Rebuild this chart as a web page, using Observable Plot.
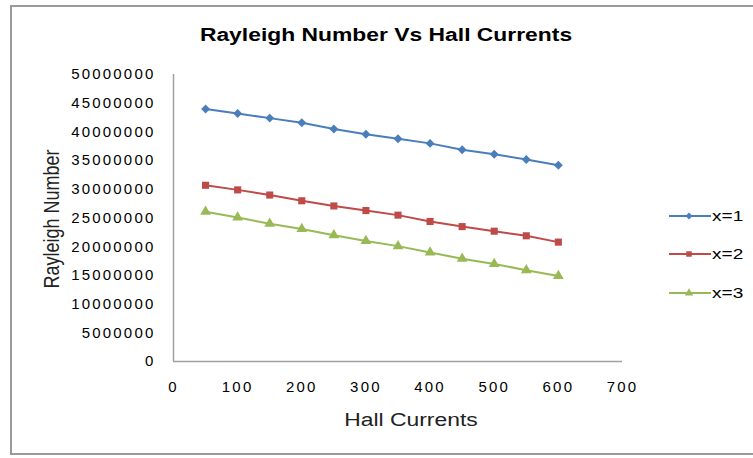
<!DOCTYPE html>
<html>
<head>
<meta charset="utf-8">
<script src="https://cdn.jsdelivr.net/npm/d3@7"></script>
<script src="https://cdn.jsdelivr.net/npm/@observablehq/plot@0.6"></script>
<style>
  html, body { margin: 0; padding: 0; background: #fff; }
  #wrap { position: relative; width: 753px; height: 458px; overflow: hidden; font-family: "Liberation Sans", Arial, sans-serif; color: #000; }
  #frame { position: absolute; left: 10px; top: 5px; width: 780px; height: 450px; border: 2px solid #9a9a9a; box-sizing: border-box; }
  #chart { position: absolute; left: 0; top: 0; }
  .lbl { position: absolute; white-space: nowrap; transform-origin: center center; }
  .leg { position: absolute; left: 669px; height: 20px; }
  .leg span { position: absolute; left: 43px; top: 0; font-size: 15px; line-height: 20px; transform: scaleX(1.27); transform-origin: 0 50%; white-space: nowrap; }
  .leg svg { position: absolute; left: 0; top: 0; }
</style>
</head>
<body>
<div id="wrap">
  <div id="frame"></div>
  <div id="chart"></div>
  <div class="lbl" id="title" style="left:386px; top:35px; font-size:18px; font-weight:bold; transform: translate(-50%,-50%) scaleX(1.27);">Rayleigh Number Vs Hall Currents</div>
  <div class="lbl" id="xt" style="left:411px; top:420px; font-size:18px; color:#222; transform: translate(-50%,-50%) scaleX(1.27);">Hall Currents</div>
  <div class="lbl" id="yt" style="left:52px; top:219px; font-size:18px; color:#222; transform: translate(-50%,-50%) rotate(-90deg) scaleY(1.27);">Rayleigh Number</div>
  <div id="legend"></div>
</div>
<script>
const hallCurrents = [50, 100, 150, 200, 250, 300, 350, 400, 450, 500, 550, 600];
const seriesNames = ["x=1", "x=2", "x=3"];
const rayleighX1 = [44.0e6, 43.2e6, 42.4e6, 41.6e6, 40.5e6, 39.6e6, 38.8e6, 38.0e6, 36.9e6, 36.1e6, 35.2e6, 34.2e6];
const rayleighX2 = [30.7e6, 29.9e6, 29.0e6, 28.0e6, 27.1e6, 26.3e6, 25.5e6, 24.4e6, 23.5e6, 22.7e6, 21.9e6, 20.8e6];
const rayleighX3 = [26.1e6, 25.1e6, 24.0e6, 23.1e6, 22.0e6, 21.0e6, 20.1e6, 19.0e6, 17.9e6, 17.0e6, 15.9e6, 14.9e6];
const yTicks = [0, 5e6, 10e6, 15e6, 20e6, 25e6, 30e6, 35e6, 40e6, 45e6, 50e6];
const xTicks = [0, 100, 200, 300, 400, 500, 600, 700];
const seriesColors = ["#4a7ebb", "#be4b48", "#98b954"];
const seriesSymbols = ["diamond2", "square", "triangle"];

const allValues = [rayleighX1, rayleighX2, rayleighX3];
const rows = [];
seriesNames.forEach((s, i) => hallCurrents.forEach((h, j) => rows.push({series: s, hall: h, ra: allValues[i][j]})));

const plot = Plot.plot({
  width: 753,
  height: 458,
  marginLeft: 173,
  marginRight: 131,
  marginTop: 74,
  marginBottom: 97,
  style: {fontFamily: "Liberation Sans, Arial, sans-serif", fontSize: "15px", letterSpacing: "2.2px", color: "#000", background: "transparent", overflow: "visible"},
  x: {domain: [0, 700], ticks: xTicks, label: null},
  y: {domain: [0, 50e6], ticks: yTicks, label: null},
  color: {domain: seriesNames, range: seriesColors},
  symbol: {domain: seriesNames, range: seriesSymbols},
  marks: [
    Plot.axisY({ticks: yTicks, tickSize: 0, tickPadding: 18, tickFormat: d => String(d), label: null}),
    Plot.axisX({ticks: xTicks, tickSize: 0, tickPadding: 20, tickFormat: d => String(d), label: null}),
    Plot.ruleX([0], {y1: 0, y2: 50e6, stroke: "#a0a0a0", strokeWidth: 1.5}),
    Plot.ruleY([0], {x1: 0, x2: 700, stroke: "#a0a0a0", strokeWidth: 1.5}),
    Plot.line(rows, {x: "hall", y: "ra", z: "series", stroke: "series", strokeWidth: 2}),
    Plot.dot(rows, {x: "hall", y: "ra", symbol: "series", fill: "series", r: 4, stroke: "none"})
  ]
});
document.getElementById("chart").appendChild(plot);

// legend
const legendY = [216, 254, 293];
const legend = document.getElementById("legend");
seriesNames.forEach((s, i) => {
  const d = document.createElement("div");
  d.className = "leg";
  d.style.top = (legendY[i] - 10) + "px";
  const sym = d3.symbol(d3.symbolsFill ? ({diamond2: d3.symbolDiamond2, square: d3.symbolSquare, triangle: d3.symbolTriangle})[seriesSymbols[i]] : d3.symbolCircle, 30)();
  d.innerHTML = `<svg width="42" height="20"><line x1="0" x2="42" y1="10" y2="10" stroke="${seriesColors[i]}" stroke-width="2"/><path d="${sym}" transform="translate(20,10)" fill="${seriesColors[i]}"/></svg><span>${s}</span>`;
  legend.appendChild(d);
});
</script>
</body>
</html>
